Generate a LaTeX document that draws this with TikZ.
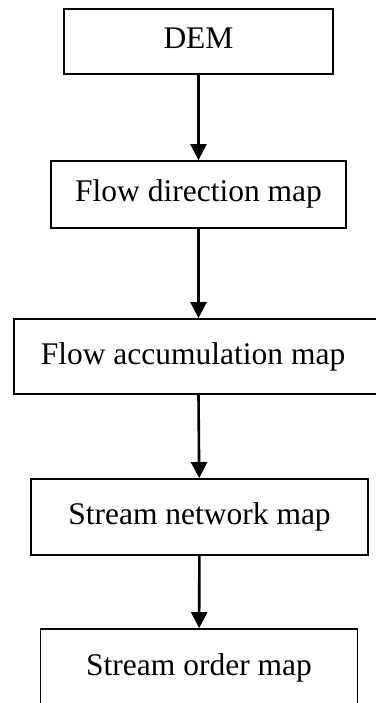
\documentclass[tikz,border=0pt]{standalone}
\usepackage{fontspec}
\setmainfont{Liberation Serif}
\usetikzlibrary{arrows.meta, positioning}

\begin{document}
\begin{tikzpicture}[
    x=1pt, y=-1pt,
    block/.style={rectangle, draw, line width=1.8pt, inner sep=0pt,
        font=\fontsize{31.5}{38}\selectfont, text height=22pt, text depth=7pt},
    arrow/.style={-{Triangle[length=16pt, width=16pt]}, line width=2.6pt}
]
\useasboundingbox (0,0) rectangle (375,703);

% Boxes - one per map, top to bottom
\node[block, minimum width=269pt, minimum height=65pt] (dem) at (198.5,41.5) {DEM};
\node[block, minimum width=295pt, minimum height=67pt] (fdir) at (198.5,194.5) {Flow direction map};
\node[block, minimum width=380pt, minimum height=75pt] (facc) at (204,356.5) {\hspace*{-22pt}Flow accumulation map};
\node[block, minimum width=337pt, minimum height=76pt] (snet) at (199.5,517) {Stream network map};
\node[block, minimum width=317pt, minimum height=77pt] (sord) at (199,667.5) {Stream order map};

% Arrows down
\draw[arrow] (dem) -- (fdir);
\draw[arrow] (fdir) -- (fdir |- facc.north);
\draw[arrow] (facc.south -| fdir) -- (snet);
\draw[arrow] (snet) -- (sord);

\end{tikzpicture}
\end{document}
